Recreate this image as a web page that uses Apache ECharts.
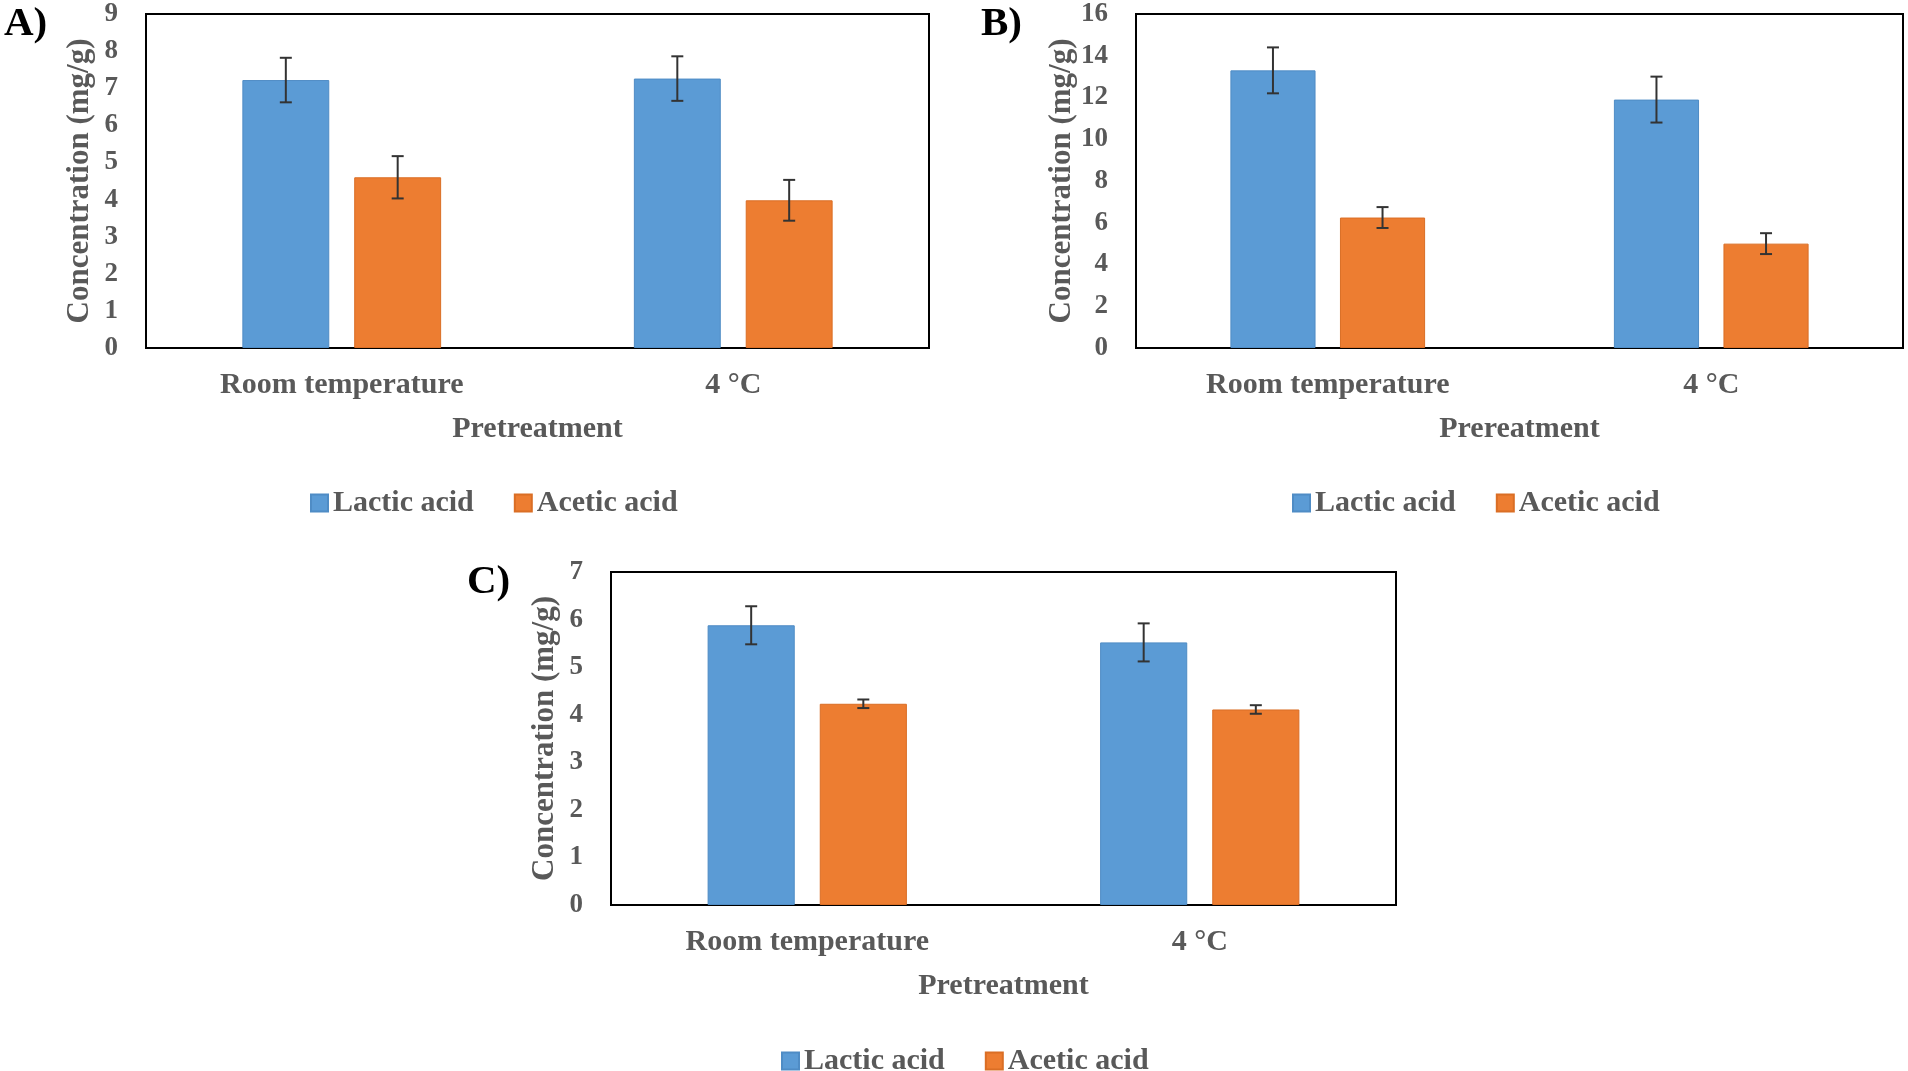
<!DOCTYPE html>
<html>
<head>
<meta charset="utf-8">
<script src="https://cdn.jsdelivr.net/npm/echarts@6/dist/echarts.min.js"></script>
<style>html,body{margin:0;padding:0;background:#fff;}#c{width:1908px;height:1071px;}</style>
</head>
<body>
<div id="c"></div>
<script>
const categories = ['Room temperature', '4 °C'];
const seriesNames = ['Lactic acid', 'Acetic acid'];
// Panel A
const lacticA = [7.22, 7.26];
const lacticErrA = [0.6, 0.6];
const aceticA = [4.6, 3.98];
const aceticErrA = [0.57, 0.55];
// Panel B
const lacticB = [13.3, 11.9];
const lacticErrB = [1.1, 1.1];
const aceticB = [6.25, 5.0];
const aceticErrB = [0.5, 0.5];
// Panel C
const lacticC = [5.88, 5.52];
const lacticErrC = [0.4, 0.4];
const aceticC = [4.23, 4.11];
const aceticErrC = [0.09, 0.09];
// axis ticks
const yMaxA = 9, yStepA = 1;
const yMaxB = 16, yStepB = 2;
const yMaxC = 7, yStepC = 1;
const xTitles = ['Pretreatment', 'Prereatment', 'Pretreatment'];
const yTitle = 'Concentration (mg/g)';
const panelLabels = ['A)', 'B)', 'C)'];

const BLUE = '#5B9BD5', ORANGE = '#ED7D31', TXT = '#595959';
const FONT = 'Liberation Serif';
const BW = 0.222, GAP = 0.287;

const chart = echarts.init(document.getElementById('c'), null, {renderer: 'canvas'});

const grids = [
  {left: 146, top: 14, width: 783, height: 334},
  {left: 1136, top: 14, width: 767, height: 334},
  {left: 611, top: 572, width: 785, height: 333}
];
const yMaxes = [[yMaxA, yStepA], [yMaxB, yStepB], [yMaxC, yStepC]];
const panels = [
  [lacticA, lacticErrA, aceticA, aceticErrA],
  [lacticB, lacticErrB, aceticB, aceticErrB],
  [lacticC, lacticErrC, aceticC, aceticErrC]
];

function errRender(sign) {
  return function (params, api) {
    const cat = api.value(0), lo = api.value(1), hi = api.value(2);
    const band = api.size([1, 0])[0];
    const off = sign * band * BW * (1 + GAP) / 2;
    const p1 = api.coord([cat, hi]), p2 = api.coord([cat, lo]);
    const x = p1[0] + off, cap = 6;
    const st = {stroke: '#333333', lineWidth: 2};
    return {type: 'group', children: [
      {type: 'line', shape: {x1: x, y1: p1[1], x2: x, y2: p2[1]}, style: st},
      {type: 'line', shape: {x1: x - cap, y1: p1[1], x2: x + cap, y2: p1[1]}, style: st},
      {type: 'line', shape: {x1: x - cap, y1: p2[1], x2: x + cap, y2: p2[1]}, style: st}
    ]};
  };
}

const xAxes = [], yAxes = [], series = [], legends = [];
grids.forEach((g, i) => {
  xAxes.push({
    type: 'category', gridIndex: i, data: categories,
    axisLine: {lineStyle: {color: '#000', width: 2}}, axisTick: {show: false},
    axisLabel: {color: TXT, fontFamily: FONT, fontWeight: 'bold', fontSize: 30, margin: 22},
    name: xTitles[i], nameLocation: 'middle', nameGap: 66,
    nameTextStyle: {color: TXT, fontFamily: FONT, fontWeight: 'bold', fontSize: 30}
  });
  yAxes.push({
    type: 'value', gridIndex: i, min: 0, max: yMaxes[i][0], interval: yMaxes[i][1],
    axisLine: {show: false}, axisTick: {show: false}, splitLine: {show: false},
    axisLabel: {color: TXT, fontFamily: FONT, fontWeight: 'bold', fontSize: 27, margin: 28},
    name: yTitle, nameLocation: 'middle', nameGap: 51, nameRotate: 90,
    nameTextStyle: {color: TXT, fontFamily: FONT, fontWeight: 'bold', fontSize: 31}
  });
  const d = panels[i];
  series.push({
    name: seriesNames[0], type: 'bar', xAxisIndex: i, yAxisIndex: i, data: d[0],
    barWidth: (BW * 100) + '%', barGap: (GAP * 100) + '%',
    itemStyle: {color: BLUE, borderColor: '#4F8CC5', borderWidth: 1}
  });
  series.push({
    name: seriesNames[1], type: 'bar', xAxisIndex: i, yAxisIndex: i, data: d[2],
    barWidth: (BW * 100) + '%', barGap: (GAP * 100) + '%',
    itemStyle: {color: ORANGE, borderColor: '#DA6E25', borderWidth: 1}
  });
  series.push({
    type: 'custom', xAxisIndex: i, yAxisIndex: i, renderItem: errRender(-1),
    encode: {x: 0, y: [1, 2]}, z: 5, silent: true,
    data: d[0].map((v, k) => [k, v - d[1][k], v + d[1][k]])
  });
  series.push({
    type: 'custom', xAxisIndex: i, yAxisIndex: i, renderItem: errRender(1),
    encode: {x: 0, y: [1, 2]}, z: 5, silent: true,
    data: d[2].map((v, k) => [k, v - d[3][k], v + d[3][k]])
  });
});

const legendPos = [{left: 305, top: 483}, {left: 1287, top: 483}, {left: 776, top: 1041}];
legendPos.forEach(p => legends.push({
  data: seriesNames, left: p.left, top: p.top, itemWidth: 17, itemHeight: 17, itemGap: 40,
  icon: 'rect', selectedMode: false,
  textStyle: {color: TXT, fontFamily: FONT, fontWeight: 'bold', fontSize: 30}
}));

const labelPos = [[4, 4], [981, 4], [467, 562]];
const graphics = labelPos.map((p, i) => ({
  type: 'text', left: p[0], top: p[1],
  style: {text: panelLabels[i], fill: '#000', font: 'bold 41px "' + FONT + '"'}
}));

chart.setOption({
  animation: false,
  grid: grids.map(g => Object.assign({show: true, borderColor: '#000', borderWidth: 2, backgroundColor: 'transparent'}, g)),
  xAxis: xAxes, yAxis: yAxes, series: series, legend: legends, graphic: graphics
});
</script>
</body>
</html>
